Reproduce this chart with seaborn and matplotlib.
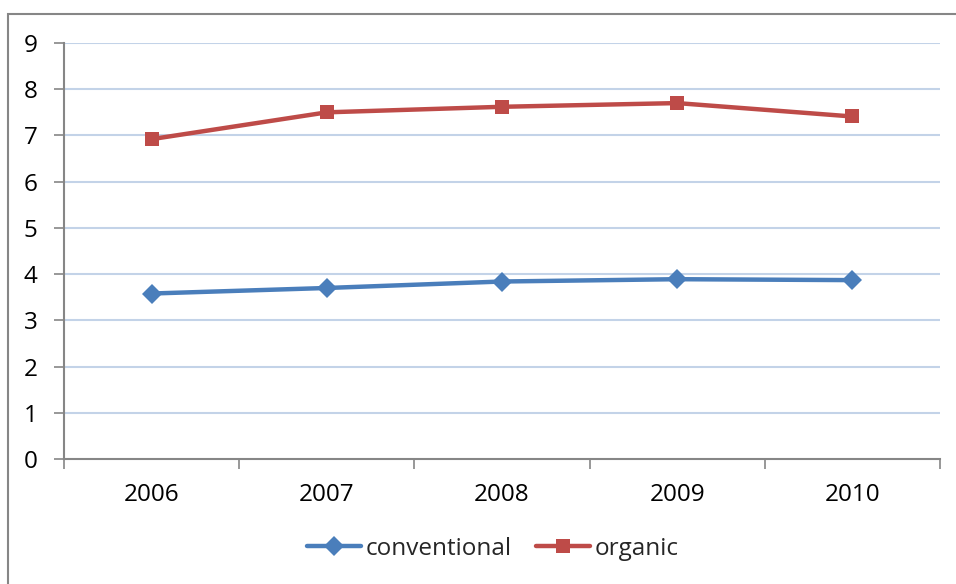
import matplotlib
matplotlib.use("Agg")
import matplotlib.pyplot as plt
from matplotlib.patches import Rectangle
from matplotlib.ticker import FixedLocator
import seaborn as sns
import pandas as pd

# Yield series by year
years = ["2006", "2007", "2008", "2009", "2010"]
conventional = [3.58, 3.70, 3.84, 3.89, 3.87]
organic = [6.92, 7.50, 7.62, 7.70, 7.41]
y_ticks = [0, 1, 2, 3, 4, 5, 6, 7, 8, 9]

df = pd.DataFrame({
    "pos": list(range(len(years))) * 2,
    "value": conventional + organic,
    "series": ["conventional"] * len(years) + ["organic"] * len(years),
})

sns.set_theme(style="white")
plt.rcParams["font.family"] = ["Open Sans", "DejaVu Sans"]
FS = 17.5

fig = plt.figure(figsize=(9.56, 5.84), dpi=100)
ax = fig.add_axes([64 / 956, 1 - 459 / 584, (940 - 64) / 956, (459 - 43) / 584])

# outer chart frame
fig.patches.append(Rectangle((8 / 956, -0.1), 1.2, 0.1 + 1 - 14 / 584,
                             transform=fig.transFigure, fill=False,
                             edgecolor="#868686", linewidth=1.5, zorder=0))

palette = {"conventional": "#4A7EBB", "organic": "#BE4B48"}
markers = {"conventional": "D", "organic": "s"}
sns.lineplot(data=df, x="pos", y="value", hue="series", style="series",
             palette=palette, markers=markers, dashes=False, linewidth=3.2,
             markersize=10.5, markeredgewidth=0, ax=ax, zorder=3)

ax.set_xlim(-0.5, len(years) - 0.5)
ax.set_ylim(0, 9)
ax.set_yticks(y_ticks)
ax.set_yticklabels([str(t) for t in y_ticks])
ax.set_xticks(range(len(years)))
ax.set_xticklabels(years)
ax.xaxis.set_minor_locator(FixedLocator([i - 0.5 for i in range(len(years) + 1)]))
ax.tick_params(axis="x", which="major", length=0, pad=17, labelsize=FS, colors="black")
ax.tick_params(axis="x", which="minor", length=7, width=1.2, color="#868686", bottom=True)
ax.tick_params(axis="y", which="major", length=7, width=1.2, color="#868686",
               left=True, pad=12, labelsize=FS, labelcolor="black")
ax.set_xlabel("")
ax.set_ylabel("")

for y in y_ticks[1:]:
    ax.axhline(y, color="#C3D3E8", linewidth=1.5, zorder=1)

for side in ("top", "right"):
    ax.spines[side].set_visible(False)
for side in ("left", "bottom"):
    ax.spines[side].set_color("#868686")
    ax.spines[side].set_linewidth(1.5)
    ax.spines[side].set_zorder(2)

handles, labels = ax.get_legend_handles_labels()
ax.legend(handles, labels, loc="center", bbox_to_anchor=(493 / 956, 1 - 549 / 584),
          bbox_transform=fig.transFigure, ncol=2, frameon=False,
          fontsize=FS, handlelength=2.2, handletextpad=0.2,
          columnspacing=1.0, borderpad=0)

fig.savefig("out.png", dpi=100)
